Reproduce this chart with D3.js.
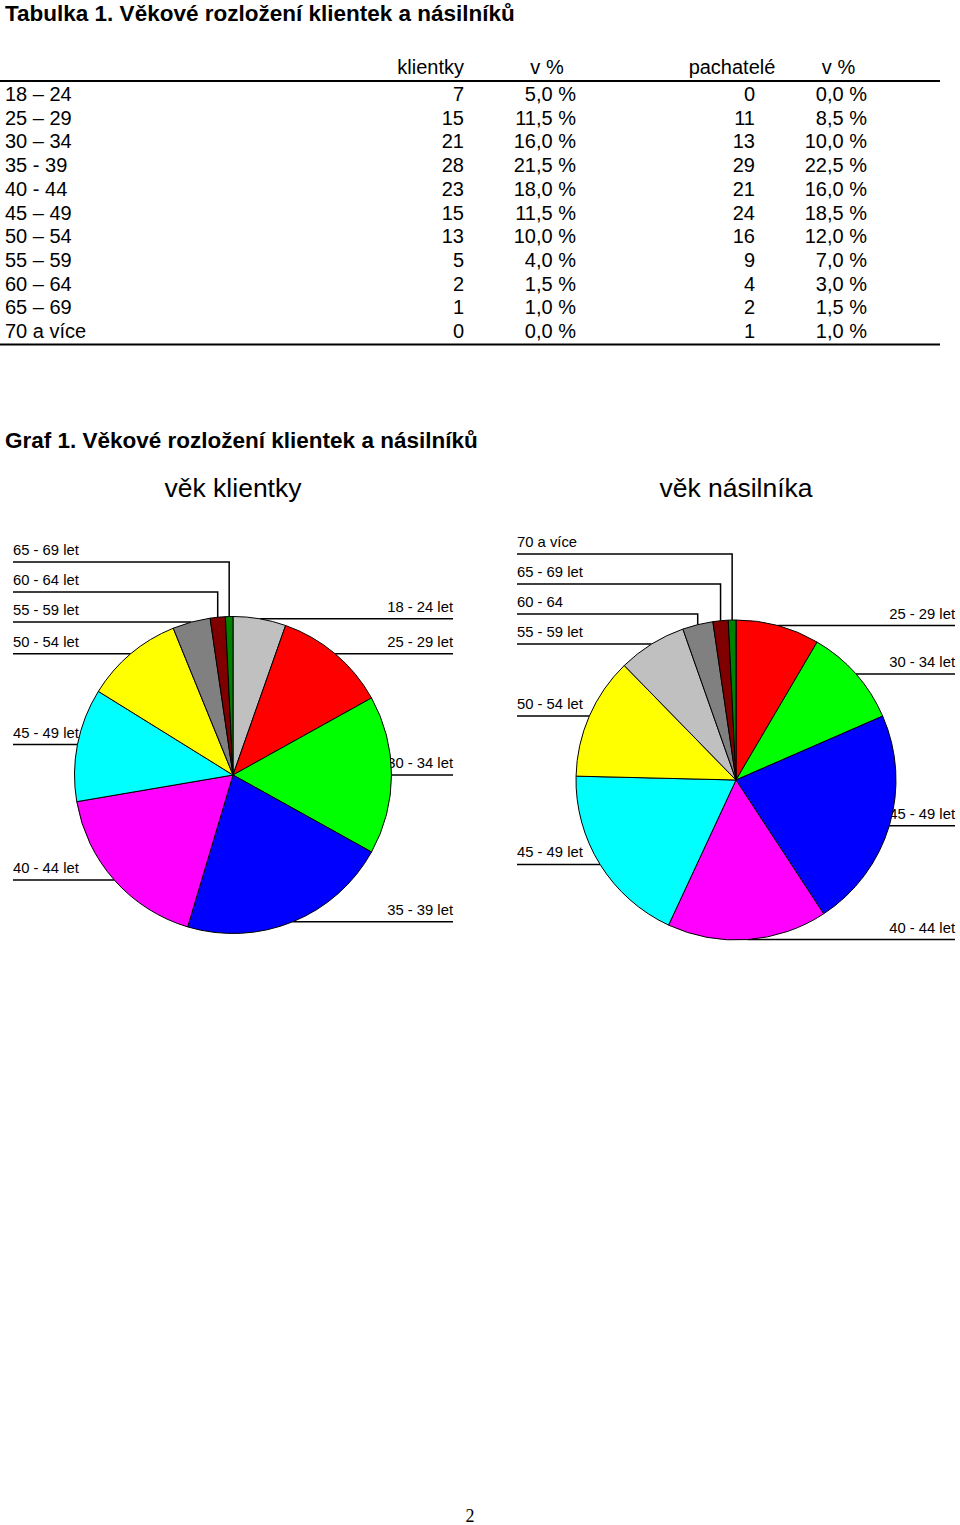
<!DOCTYPE html>
<html><head><meta charset="utf-8">
<script src="https://cdn.jsdelivr.net/npm/d3@7"></script>
<style>body{margin:0;background:#fff}svg{display:block}</style>
</head><body>
<svg id="c" width="960" height="1525"></svg>
<script>
// ---- data ----
const ageGroups = ["18 – 24","25 – 29","30 – 34","35 - 39","40 - 44","45 – 49","50 – 54","55 – 59","60 – 64","65 – 69","70 a více"];
const klientky = [7,15,21,28,23,15,13,5,2,1,0];
const klientkyPct = [5.0,11.5,16.0,21.5,18.0,11.5,10.0,4.0,1.5,1.0,0.0];
const pachatele = [0,11,13,29,21,24,16,9,4,2,1];
const pachatelePct = [0.0,8.5,10.0,22.5,16.0,18.5,12.0,7.0,3.0,1.5,1.0];
const tableHeaders = ["klientky","v %","pachatelé","v %"];

const labelsKlientky = ["18 - 24 let","25 - 29 let","30 - 34 let","35 - 39 let","40 - 44 let","45 - 49 let","50 - 54 let","55 - 59 let","60 - 64 let","65 - 69 let",""];
const labelsNasilnik = ["","25 - 29 let","30 - 34 let","45 - 49 let","40 - 44 let","45 - 49 let","50 - 54 let","55 - 59 let","60 - 64","65 - 69 let","70 a více"];
const colorsKlientky = ["#C0C0C0","#FF0000","#00FF00","#0000FF","#FF00FF","#00FFFF","#FFFF00","#808080","#800000","#008000","#000080"];
const colorsNasilnik = ["#000080","#FF0000","#00FF00","#0000FF","#FF00FF","#00FFFF","#FFFF00","#C0C0C0","#808080","#800000","#008000"];

const SANS = "'Liberation Sans', Arial, sans-serif";
const svg = d3.select("#c");
svg.append("rect").attr("width",960).attr("height",1525).attr("fill","#fff");

// ---- table ----
svg.append("text").attr("x",5).attr("y",21).attr("font-family",SANS).attr("font-weight","bold")
  .attr("font-size",22.5).text("Tabulka 1. Věkové rozložení klientek a násilníků");

const fmt = v => v.toFixed(1).replace(".", ",") + " %";
const rowY = d3.scaleLinear().domain([0,10]).range([101,338]);
const headerSpec = [{x:464,a:"end"},{x:547,a:"middle"},{x:732,a:"middle"},{x:838.5,a:"middle"}];
const g = svg.append("g").attr("font-family",SANS).attr("font-size",20);
g.selectAll("text.h").data(tableHeaders).join("text").attr("class","h")
  .attr("x",(d,i)=>headerSpec[i].x).attr("y",74).attr("text-anchor",(d,i)=>headerSpec[i].a).text(d=>d);
g.append("line").attr("x1",0).attr("x2",940).attr("y1",81).attr("y2",81).attr("stroke","#000").attr("stroke-width",2);
g.append("line").attr("x1",0).attr("x2",940).attr("y1",344.5).attr("y2",344.5).attr("stroke","#000").attr("stroke-width",2);
const cols = [
  {vals: klientky.map(String), x:464},
  {vals: klientkyPct.map(fmt), x:576},
  {vals: pachatele.map(String), x:755},
  {vals: pachatelePct.map(fmt), x:867}
];
g.selectAll("text.r").data(ageGroups).join("text").attr("class","r")
  .attr("x",5).attr("y",(d,i)=>rowY(i)).text(d=>d);
cols.forEach(c=>{
  g.append("g").selectAll("text").data(c.vals).join("text")
    .attr("x",c.x).attr("y",(d,i)=>rowY(i)).attr("text-anchor","end").text(d=>d);
});

// ---- chart ----
svg.append("text").attr("x",5).attr("y",448).attr("font-family",SANS).attr("font-weight","bold")
  .attr("font-size",22.5).text("Graf 1. Věkové rozložení klientek a násilníků");

function drawPie(cfg){
  const {cx, cy, r, values, labels, colors, title, leftX, rightX} = cfg;
  const root = svg.append("g");
  root.append("text").attr("x",cx).attr("y",497).attr("text-anchor","middle")
    .attr("font-family",SANS).attr("font-size",26.5).text(title);
  const pie = d3.pie().sort(null).value(d=>d.v);
  const arcs = pie(values.map((v,i)=>({v, label:labels[i], color:colors[i]})));
  const arc = d3.arc().innerRadius(0).outerRadius(r);
  // label anchor points
  const items = arcs.filter(a=>a.data.v>0).map(a=>{
    const m = (a.startAngle+a.endAngle)/2;
    return {a, px: cx + r*Math.sin(m), py: cy - r*Math.cos(m), left: m > Math.PI};
  });
  const L = items.filter(d=>d.left).sort((p,q)=>q.py-p.py);
  let prev = Infinity;
  L.forEach(d=>{ d.ly = Math.min(d.py, prev-30); prev = d.ly; });
  const R = items.filter(d=>!d.left).sort((p,q)=>p.py-q.py);
  prev = -Infinity;
  R.forEach(d=>{ d.ly = Math.max(d.py, prev+30); prev = d.ly; });
  const lg = root.append("g").attr("font-family",SANS).attr("font-size",14.8);
  items.forEach(d=>{
    const lx = d.left ? leftX : rightX;
    lg.append("polyline")
      .attr("points",`${lx},${d.ly} ${d.px},${d.ly} ${d.px},${d.py}`)
      .attr("fill","none").attr("stroke","#000").attr("stroke-width",1.5);
    lg.append("text").attr("x",lx).attr("y",d.ly-7)
      .attr("text-anchor",d.left?"start":"end").text(d.a.data.label);
  });
  root.append("g").attr("transform",`translate(${cx},${cy})`)
    .selectAll("path").data(arcs.filter(a=>a.data.v>0)).join("path")
    .attr("d",arc).attr("fill",d=>d.data.color).attr("stroke","#000").attr("stroke-width",1)
    .attr("stroke-linejoin","round");
}

drawPie({cx:233, cy:775, r:158.5, values:klientky, labels:labelsKlientky, colors:colorsKlientky,
  title:"věk klientky", leftX:13, rightX:453});
drawPie({cx:736, cy:780, r:160, values:pachatele, labels:labelsNasilnik, colors:colorsNasilnik,
  title:"věk násilníka", leftX:517, rightX:955});

// page number
svg.append("text").attr("x",470).attr("y",1522).attr("text-anchor","middle")
  .attr("font-family","'Liberation Serif', 'Times New Roman', serif").attr("font-size",18).text("2");
</script>
</body></html>
